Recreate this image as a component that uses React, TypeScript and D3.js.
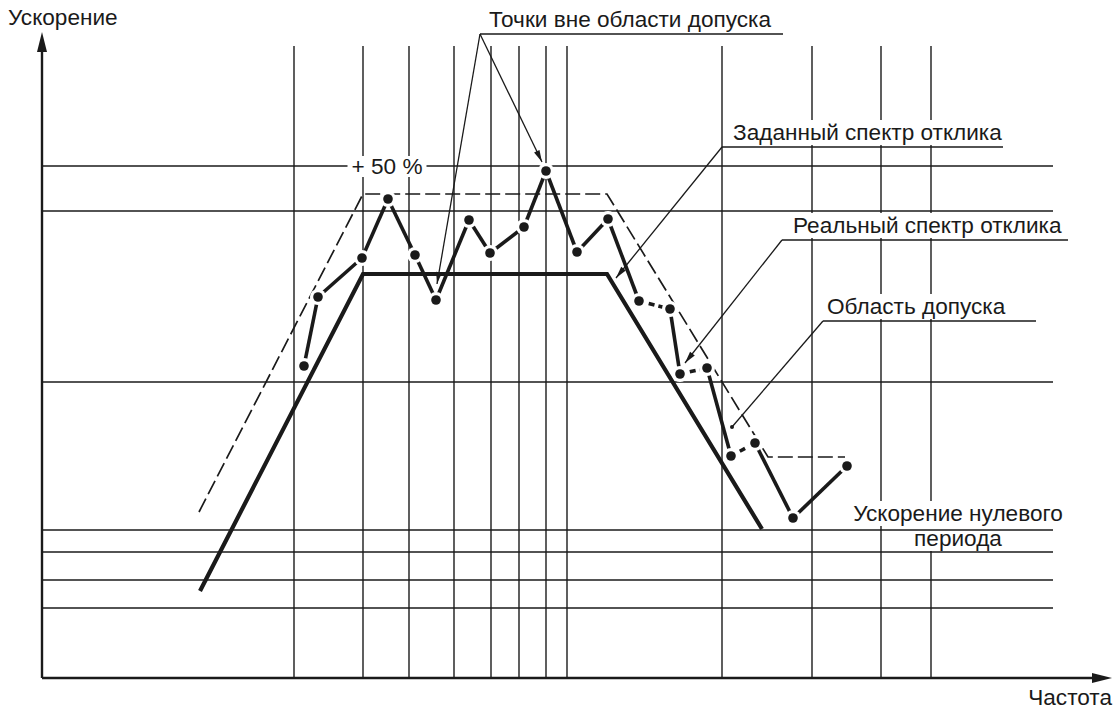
import React, { useEffect, useRef } from "react";
import * as d3 from "d3";

const width = 1116;
const height = 710;

// schematic units (the original has no numeric ticks)
const gridFreq = [25.2, 32.1, 36.7, 41.2, 44.9, 47.7, 50.4, 52.5, 68.0, 77.0, 83.9, 88.9];
const gridAcc = [51.2, 46.7, 29.6, 14.8, 12.6, 9.8, 7.0];

// required response spectrum
const requiredFreq = [15.8, 32.1, 56.5, 72.0];
const requiredAcc = [8.7, 40.4, 40.4, 14.9];

// tolerance band (dashed)
const toleranceFreq = [15.7, 32.1, 56.5, 72.6, 80.3];
const toleranceAcc = [16.6, 48.4, 48.4, 22.1, 22.1];

// real response spectrum
const realFreq = [26.2, 27.6, 32.0, 34.6, 37.3, 39.4, 42.7, 44.8, 48.2, 50.4, 53.5, 56.6, 59.7, 62.8, 63.8, 66.5, 68.9, 71.3, 75.1, 80.5];
const realAcc = [31.2, 38.1, 42.0, 47.9, 42.3, 37.8, 45.8, 42.5, 45.1, 50.7, 42.6, 45.9, 37.7, 36.9, 30.4, 31.0, 22.2, 23.5, 16.0, 21.2];
const dashedSegments = [12, 14, 16];

// callouts
const calloutText = ["Точки вне области допуска", "Заданный спектр отклика", "Реальный спектр отклика", "Область допуска"];
const calloutFreq = [43.8, 68.0, 74.0, 78.1];
const calloutAcc = [64.4, 53.1, 43.8, 35.7];
const calloutEndFreq = [74.1, 96.1, 102.6, 99.4];
const calloutTips: [number, number][][] = [
  [[39.5, 39.4], [50.0, 51.6]],
  [[57.4, 40.0]],
  [[64.3, 31.5]],
  [[69.0, 25.1]],
];
const calloutEnds = ["arrow", "arrow", "arrow", "dot"];

const yTitle = "Ускорение";
const xTitle = "Частота";
const plusLabel = "+ 50 %";
const zeroPeriodLabel = ["Ускорение нулевого", "периода"];

const FONT = "'Liberation Sans', Arial, sans-serif";
const FONT_SIZE = 22.6;
const INK = "#1a1a1a";

const App: React.FC = () => {
  const svgRef = useRef<SVGSVGElement | null>(null);

  useEffect(() => {
    document.body.style.margin = "0";
    const svg = d3.select(svgRef.current);
    svg.selectAll("*").remove();

    const x = d3.scaleLinear().domain([0, 107]).range([42, 1112]);
    const y = d3.scaleLinear().domain([0, 64.6]).range([678, 32]);
    const gridTop = y(63.2);
    const gridRight = x(101.1);

    const gV = svg.append("g");
    const gBoxes = svg.append("g");
    const gH = svg.append("g");
    const gLines = svg.append("g");
    const gDots = svg.append("g");
    const gNotes = svg.append("g");
    const gText = svg.append("g");
    const gTop = svg.append("g");

    // vertical grid
    gV.selectAll("line")
      .data(gridFreq)
      .enter()
      .append("line")
      .attr("x1", (d) => x(d))
      .attr("x2", (d) => x(d))
      .attr("y1", gridTop)
      .attr("y2", y(0))
      .attr("stroke", INK)
      .attr("stroke-width", 1.4);

    // horizontal grid
    gH.selectAll("line")
      .data(gridAcc)
      .enter()
      .append("line")
      .attr("x1", x(0))
      .attr("x2", gridRight)
      .attr("y1", (d) => y(d))
      .attr("y2", (d) => y(d))
      .attr("stroke", INK)
      .attr("stroke-width", 1.4);

    // axes with arrows
    gH.append("line")
      .attr("x1", x(0)).attr("x2", x(0))
      .attr("y1", y(0)).attr("y2", y(62.8))
      .attr("stroke", INK).attr("stroke-width", 2.4);
    gH.append("path")
      .attr("d", `M${x(0)},${y(64.6)} L${x(0) - 5},${y(62.6)} L${x(0) + 5},${y(62.6)} Z`)
      .attr("fill", INK);
    gH.append("line")
      .attr("x1", x(0)).attr("x2", x(105))
      .attr("y1", y(0)).attr("y2", y(0))
      .attr("stroke", INK).attr("stroke-width", 2.4);
    gH.append("path")
      .attr("d", `M${x(107)},${y(0)} L${x(105)},${y(0) - 5} L${x(105)},${y(0) + 5} Z`)
      .attr("fill", INK);

    // tolerance
    gLines.append("path")
      .attr("d", d3.line<number>().x((_, i) => x(toleranceFreq[i])).y((d) => y(d))(toleranceAcc) as string)
      .attr("fill", "none")
      .attr("stroke", INK)
      .attr("stroke-width", 1.7)
      .attr("stroke-dasharray", "15,5");

    // required
    gLines.append("path")
      .attr("d", d3.line<number>().x((_, i) => x(requiredFreq[i])).y((d) => y(d))(requiredAcc) as string)
      .attr("fill", "none")
      .attr("stroke", INK)
      .attr("stroke-width", 4.2);

    // real spectrum segments
    const segs = d3.range(realFreq.length - 1);
    gLines.selectAll(".seg")
      .data(segs)
      .enter()
      .append("line")
      .attr("class", "seg")
      .attr("x1", (i) => x(realFreq[i]))
      .attr("y1", (i) => y(realAcc[i]))
      .attr("x2", (i) => x(realFreq[i + 1]))
      .attr("y2", (i) => y(realAcc[i + 1]))
      .attr("stroke", INK)
      .attr("stroke-width", 3.6)
      .attr("stroke-dasharray", (i) => (dashedSegments.includes(i) ? "6,4" : null));

    gDots.selectAll(".halo")
      .data(realFreq)
      .enter()
      .append("circle")
      .attr("class", "halo")
      .attr("cx", (d) => x(d))
      .attr("cy", (_, i) => y(realAcc[i]))
      .attr("r", 8)
      .attr("fill", "white");
    gDots.selectAll(".dot")
      .data(realFreq)
      .enter()
      .append("circle")
      .attr("class", "dot")
      .attr("cx", (d) => x(d))
      .attr("cy", (_, i) => y(realAcc[i]))
      .attr("r", 4.8)
      .attr("fill", INK);

    // callouts
    const textGap = [9, 11, 11, 4];
    calloutText.forEach((txt, k) => {
      const cx = x(calloutFreq[k]);
      const cy = y(calloutAcc[k]);
      gNotes.append("line")
        .attr("x1", cx).attr("x2", x(calloutEndFreq[k]))
        .attr("y1", cy).attr("y2", cy)
        .attr("stroke", INK).attr("stroke-width", 1.4);
      calloutTips[k].forEach(([tf, ta]) => {
        const tx = x(tf);
        const ty = y(ta);
        gNotes.append("line")
          .attr("x1", cx).attr("y1", cy)
          .attr("x2", tx).attr("y2", ty)
          .attr("stroke", INK).attr("stroke-width", 1.3);
        if (calloutEnds[k] === "arrow") {
          const dx = tx - cx;
          const dy = ty - cy;
          const len = Math.hypot(dx, dy);
          const ux = dx / len;
          const uy = dy / len;
          const bx = tx - ux * 12;
          const by = ty - uy * 12;
          gNotes.append("path")
            .attr("d", `M${tx},${ty} L${bx - uy * 3},${by + ux * 3} L${bx + uy * 3},${by - ux * 3} Z`)
            .attr("fill", INK);
        } else {
          gNotes.append("circle").attr("cx", tx).attr("cy", ty).attr("r", 2).attr("fill", INK);
        }
      });
      gText.append("text")
        .attr("class", "boxed")
        .attr("x", cx + textGap[k])
        .attr("y", cy - 7)
        .text(txt);
    });

    // axis titles
    gText.append("text").attr("x", 8).attr("y", 25).text(yTitle);
    gText.append("text").attr("x", x(107)).attr("y", 705).attr("text-anchor", "end").text(xTitle);

    // zero period acceleration
    zeroPeriodLabel.forEach((t, i) => {
      gText.append("text")
        .attr("class", "boxed")
        .attr("x", x(91.6))
        .attr("y", y(15.7) + i * 25)
        .attr("text-anchor", "middle")
        .text(t);
    });

    gText.selectAll("text")
      .attr("font-family", FONT)
      .attr("font-size", FONT_SIZE)
      .attr("fill", INK);

    gText.selectAll<SVGTextElement, unknown>("text.boxed").each(function () {
      const b = this.getBBox();
      gBoxes.append("rect")
        .attr("x", b.x - 3).attr("y", b.y)
        .attr("width", b.width + 6).attr("height", b.height)
        .attr("fill", "white");
    });

    // +50 % label over the top gridline
    const pl = gTop.append("text")
      .attr("x", x(34.5))
      .attr("y", y(51.2) + 8)
      .attr("text-anchor", "middle")
      .attr("font-family", FONT)
      .attr("font-size", FONT_SIZE)
      .attr("fill", INK)
      .text(plusLabel);
    const pb = (pl.node() as SVGTextElement).getBBox();
    gTop.insert("rect", "text")
      .attr("x", pb.x - 4).attr("y", pb.y + 2)
      .attr("width", pb.width + 8).attr("height", pb.height - 4)
      .attr("fill", "white");
  }, []);

  return <svg ref={svgRef} width={width} height={height} style={{ display: "block", background: "white" }} />;
};

export default App;
